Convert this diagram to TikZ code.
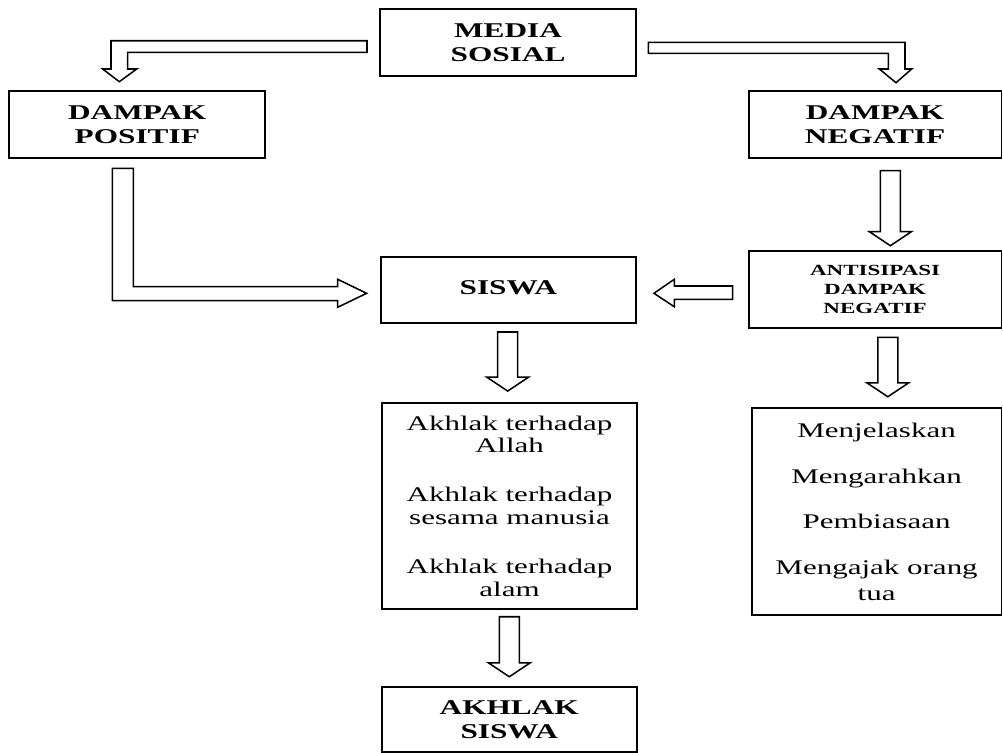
\documentclass[tikz,border=0pt]{standalone}
\usepackage{fontspec}
\setmainfont{Liberation Serif}[FakeStretch=1.49]
\usetikzlibrary{calc}
\tikzset{
  box/.style={draw, line width=1.4pt, inner sep=0pt, outer sep=0pt, align=center},
  bold/.style={font=\fontsize{15.75}{18.2}\selectfont\bfseries},
  small/.style={font=\fontsize{11.6}{14}\selectfont\bfseries},
  plain/.style={font=\fontsize{15.6}{17}\selectfont},
  blk/.style={draw, line width=1.15pt, fill=white, line join=miter}
}
\newcommand{\vblock}[5]{%
  \coordinate (vt) at ($(#1.south)+(#3,#4)$);
  \coordinate (vp) at ($(vt |- #2.north)+(0,-#5)$);
  \draw[blk] ($(vt)+(-10,0)$) -- ($(vt)+(10,0)$) -- ($(vp)+(10,-14)$) -- ($(vp)+(21,-14)$) -- (vp) -- ($(vp)+(-21,-14)$) -- ($(vp)+(-10,-14)$) -- cycle;
}
\begin{document}
\begin{tikzpicture}[x=0.75pt, y=-0.75pt]
\useasboundingbox (0,0) rectangle (1003,753);
\fill[white] (0,0) rectangle (1003,753);
\clip (0,0) rectangle (1003,753);

\node[box, bold, minimum width=192pt, minimum height=50pt] (media) at (508,42.35) {MEDIA\\SOSIAL};
\node[box, bold, minimum width=192pt, minimum height=50.25pt] (dp) at (137.3,124.5) {DAMPAK\\POSITIF};
\node[box, bold, minimum width=189.6pt, minimum height=50.25pt] (dn) at (875.1,124.5) {DAMPAK\\NEGATIF};
\node[box, bold, minimum width=191.5pt, minimum height=49.5pt] (siswa) at (508.3,290) {\raisebox{4pt}{SISWA}};
\node[box, small, minimum width=189.6pt, minimum height=58.2pt] (ant) at (875.1,289.5) {ANTISIPASI\\DAMPAK\\NEGATIF};
\node[box, plain, minimum width=191.25pt, minimum height=154.7pt] (akhlak) at (509.5,506.2)
  {Akhlak terhadap\\Allah\\[19.8pt]Akhlak terhadap\\sesama manusia\\[19.8pt]Akhlak terhadap\\alam};
\node[box, plain, minimum width=187.35pt, minimum height=155pt] (menj) at (876.6,511.7)
  {Menjelaskan\\[17.2pt]Mengarahkan\\[17.2pt]Pembiasaan\\[17.2pt]Mengajak orang\\[2.2pt]tua};
\node[box, bold, minimum width=191.25pt, minimum height=48.5pt] (as) at (509.2,719.7) {AKHLAK\\SISWA};

% MEDIA SOSIAL -> DAMPAK POSITIF
\coordinate (b1) at ($(media.west)+(-13,-1.6)$);
\coordinate (b2) at ($(dp.north)+(-18,-9.3)$);
\draw[blk] (b1) -| ($(b2)+(-8.3,-12.7)$) -- ($(b2)+(-16.6,-12.7)$) -- (b2) -- ($(b2)+(17.4,-12.7)$) -- ($(b2)+(8.4,-12.7)$) |- ($(b1)+(0,11.6)$) -- cycle;

% MEDIA SOSIAL -> DAMPAK NEGATIF
\coordinate (c1) at ($(media.east)+(12.3,0)$);
\coordinate (c2) at ($(dn.north)+(20.9,-8.3)$);
\draw[blk] (c1) -| ($(c2)+(9,-13.7)$) -- ($(c2)+(15.7,-13.7)$) -- (c2) -- ($(c2)+(-16.7,-13.7)$) -- ($(c2)+(-7.7,-13.7)$) |- ($(c1)+(0,11)$) -- cycle;

% DAMPAK POSITIF -> SISWA
\coordinate (a1) at ($(dp.south)+(-25,10.3)$);
\coordinate (a2) at ($(siswa.west)+(-14,3.3)$);
\draw[blk] (a1) -- ++(21,0) |- ($(a2)+(-29,-6.6)$) -- ($(a2)+(-29,-14)$) -- (a2) -- ($(a2)+(-29,14)$) -- ($(a2)+(-29,7.4)$) -| (a1) -- cycle;

% ANTISIPASI -> SISWA
\coordinate (d2) at ($(siswa.east)+(18,3.3)$);
\draw[blk] ($(ant.west)+(-16,-3.5)$) -- ($(d2)+(20.3,-7.3)$) -- ($(d2)+(20.3,-14)$) -- (d2) -- ($(d2)+(20.3,13.4)$) -- ($(d2)+(20.3,6)$) -- ($(ant.west)+(-16,9.8)$) -- cycle;

% vertical block arrows
\vblock{dn}{ant}{15.3}{12.7}{5}
\vblock{ant}{menj}{12.7}{9}{11.6}
\vblock{siswa}{akhlak}{-0.6}{9}{12}
\vblock{akhlak}{as}{-0.2}{7.4}{10.6}
\end{tikzpicture}
\end{document}
